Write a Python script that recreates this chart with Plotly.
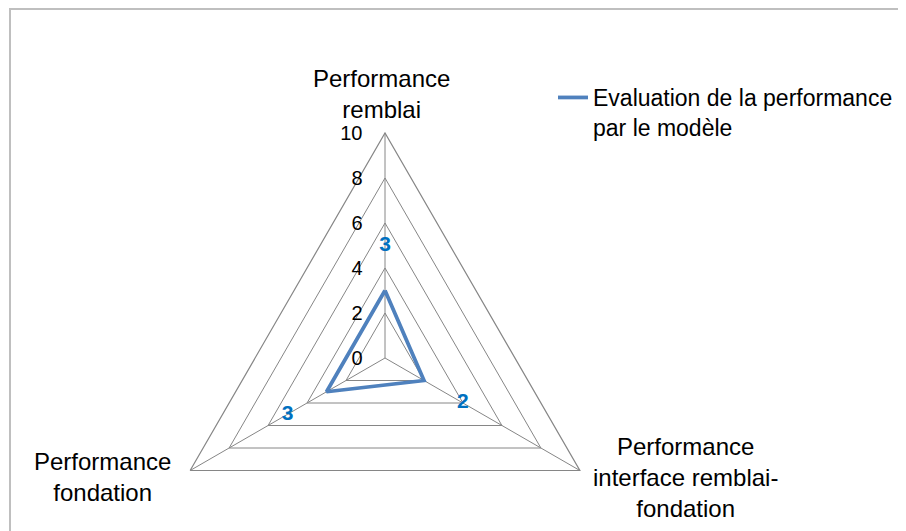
import plotly.graph_objects as go

# axes of the radar, clockwise from the top
categories = ['Performance<br>remblai',
              'Performance<br>interface remblai-<br>fondation',
              'Performance<br>fondation']
values = [3, 2, 3]
value_labels = ['3', '2', '3']
radial_ticks = [0, 2, 4, 6, 8, 10]
series_name = 'Evaluation de la performance<br>par le modèle'

# page body has an 8px margin, so the figure is a bit narrower than the window
W, H = 898, 580
grid_col = '#868686'

fig = go.Figure()

fig.add_trace(go.Scatterpolar(
    r=values + values[:1], theta=categories + categories[:1],
    mode='lines', name=series_name,
    line=dict(color='#4f81bd', width=3.75),
))

# data labels sit a little outside each point, as excel puts them
fig.add_trace(go.Scatterpolar(
    r=[v + 2 for v in values], theta=categories,
    mode='text', text=value_labels, showlegend=False,
    textfont=dict(family='Liberation Sans, Arial', size=21, color='#0070c0'),
    texttemplate='<b>%{text}</b>', cliponaxis=False,
))

# category names, centred like excel does (plotly tick labels can't be centred)
label_pos = [(373, 86), (677, 469), (94, 469)]
annots = []
for name, (px, py) in zip(categories, label_pos):
    annots.append(dict(text=name, xref='paper', yref='paper',
                       x=px / W, y=1 - py / H, xanchor='center', yanchor='middle',
                       align='center', showarrow=False, font=dict(size=24)))

fig.update_layout(
    width=W, height=H,
    margin=dict(l=0, r=0, t=0, b=0),
    paper_bgcolor='white',
    font=dict(family='Liberation Sans, Arial', size=20, color='black'),
    polar=dict(
        domain=dict(x=[152 / W, 602 / W], y=[(H - 575) / H, (H - 125) / H]),
        gridshape='linear',
        bgcolor='white',
        radialaxis=dict(
            range=[0, 10], tickvals=radial_ticks, angle=90, side='counterclockwise',
            tickangle=90,
            showline=False, showgrid=True, gridcolor=grid_col, gridwidth=1.2,
            ticks='outside', ticklen=15, tickcolor='rgba(0,0,0,0)', tickfont=dict(size=20),
        ),
        angularaxis=dict(
            rotation=90, direction='clockwise',
            showline=True, linecolor=grid_col, linewidth=1.2,
            showgrid=True, gridcolor=grid_col, gridwidth=1.2,
            ticks='', showticklabels=False,
        ),
    ),
    annotations=annots,
    legend=dict(x=545 / W, y=1 - 68 / H, xanchor='left', yanchor='top', valign='top',
                font=dict(size=23), bgcolor='rgba(0,0,0,0)'),
    shapes=[dict(type='rect', xref='paper', yref='paper',
                 x0=2 / W, y0=-0.1, x1=1.1, y1=1 - 1 / H,
                 line=dict(color='#bfbfbf', width=2))],
)

fig.write_html('out.html')
